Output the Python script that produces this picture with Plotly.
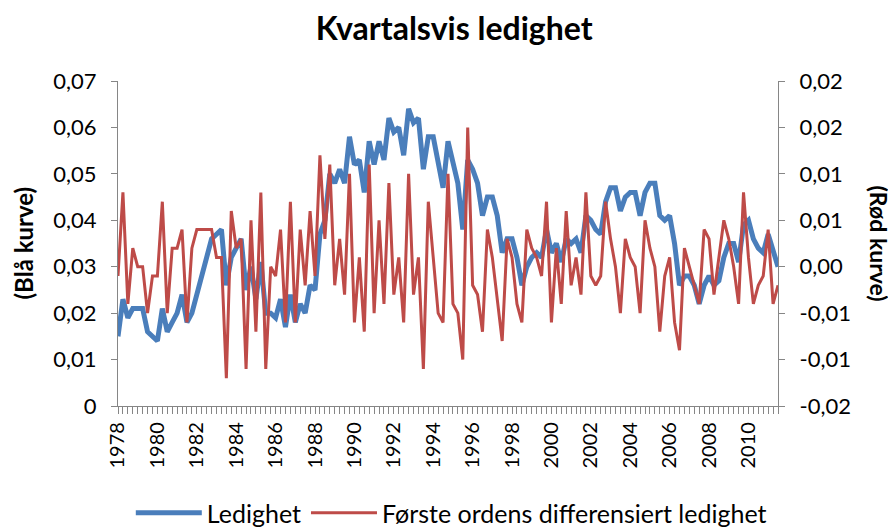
import plotly.graph_objects as go

start_year = 1978
ledighet = [
    0.015, 0.023, 0.019, 0.021, 0.021, 0.021, 0.016, 0.015, 0.014, 0.021,
    0.016, 0.018, 0.020, 0.024, 0.018, 0.020, 0.024, 0.028, 0.032, 0.036,
    0.037, 0.038, 0.026, 0.032, 0.034, 0.036, 0.025, 0.030, 0.023, 0.031,
    0.020, 0.020, 0.019, 0.023, 0.017, 0.024, 0.018, 0.022, 0.020, 0.026,
    0.025, 0.037, 0.040, 0.050, 0.048, 0.051, 0.048, 0.058, 0.052, 0.053,
    0.046, 0.057, 0.052, 0.057, 0.053, 0.062, 0.059, 0.060, 0.054, 0.064,
    0.061, 0.062, 0.051, 0.058, 0.058, 0.053, 0.047, 0.057, 0.053, 0.048,
    0.038, 0.053, 0.051, 0.048, 0.041, 0.045, 0.045, 0.041, 0.033, 0.036,
    0.036, 0.032, 0.026, 0.030, 0.032, 0.033, 0.032, 0.038, 0.033, 0.035,
    0.031, 0.036, 0.035, 0.036, 0.033, 0.041, 0.040, 0.038, 0.037, 0.044,
    0.047, 0.047, 0.042, 0.045, 0.046, 0.046, 0.041, 0.046, 0.048, 0.048,
    0.041, 0.040, 0.041, 0.035, 0.026, 0.028, 0.028, 0.026, 0.022, 0.026,
    0.028, 0.026, 0.027, 0.032, 0.035, 0.035, 0.031, 0.039, 0.040, 0.036,
    0.034, 0.033, 0.037, 0.033, 0.030,
]
diff_ledighet = [
    -0.001, 0.008, -0.004, 0.002, 0.000, 0.000, -0.005, -0.001, -0.001, 0.007,
    -0.005, 0.002, 0.002, 0.004, -0.006, 0.002, 0.004, 0.004, 0.004, 0.004,
    0.001, 0.001, -0.012, 0.006, 0.002, 0.003, -0.011, 0.005, -0.007, 0.008,
    -0.011, 0.000, -0.001, 0.004, -0.006, 0.007, -0.006, 0.004, -0.002, 0.006,
    -0.001, 0.012, 0.003, 0.011, -0.002, 0.003, -0.003, 0.010, -0.006, 0.001,
    -0.007, 0.011, -0.005, 0.005, -0.004, 0.009, -0.003, 0.001, -0.006, 0.010,
    -0.003, 0.001, -0.011, 0.007, 0.001, -0.005, -0.006, 0.010, -0.004, -0.005,
    -0.010, 0.015, -0.002, -0.003, -0.007, 0.004, 0.001, -0.0035, -0.008, 0.003,
    0.001, -0.004, -0.006, 0.004, 0.002, 0.001, -0.001, 0.007, -0.006, 0.002,
    -0.004, 0.006, -0.002, 0.001, -0.003, 0.008, -0.001, -0.002, -0.001, 0.007,
    0.003, 0.000, -0.005, 0.003, 0.001, 0.000, -0.005, 0.005, 0.002, 0.000,
    -0.007, -0.001, 0.001, -0.006, -0.009, 0.002, 0.000, -0.002, -0.004, 0.004,
    0.003, -0.003, 0.001, 0.005, 0.003, 0.000, -0.004, 0.008, 0.001, -0.004,
    -0.002, -0.001, 0.004, -0.004, -0.002,
]
x_tick_years = list(range(1978, 2011, 2))
left_tickvals = [0, 0.01, 0.02, 0.03, 0.04, 0.05, 0.06, 0.07]
left_ticktext = ["0", "0,01", "0,02", "0,03", "0,04", "0,05", "0,06", "0,07"]
right_tickvals = [-0.015, -0.01, -0.005, 0.0, 0.005, 0.01, 0.015, 0.02]
right_ticktext = ["-0,02", "-0,01", "-0,01", "0,00", "0,01", "0,01", "0,02", "0,02"]

quarters = [start_year + i / 4 for i in range(len(ledighet))]

FONT = "Lato"
AX = "#868686"

fig = go.Figure()
fig.add_trace(go.Scatter(x=quarters, y=ledighet, name="Ledighet", mode="lines",
                         line=dict(color="#4A7EBB", width=5)))
fig.add_trace(go.Scatter(x=quarters, y=diff_ledighet, name="Første ordens differensiert ledighet",
                         mode="lines", line=dict(color="#BE4B48", width=3), yaxis="y2"))

fig.update_layout(
    width=896, height=530,
    margin=dict(l=110, r=126, t=73, b=132, autoexpand=False),
    paper_bgcolor="white", plot_bgcolor="white",
    font=dict(family=FONT, size=20, color="black"),
    title=dict(text="<b>Kvartalsvis ledighet</b>", x=0.498, xanchor="center",
               y=1 - 21 / 530, yanchor="middle",
               font=dict(family=FONT, size=32, color="black")),
    showlegend=True,
    legend=dict(orientation="h", x=0.505, xanchor="center", yref="container",
                y=1 - 505 / 530, yanchor="middle",
                font=dict(family=FONT, size=25), itemwidth=66, tracegroupgap=0),
    xaxis=dict(range=[quarters[0], quarters[-1]], tickmode="array", tickvals=x_tick_years,
               ticktext=[str(y) for y in x_tick_years], tickangle=-90, showgrid=False,
               zeroline=False, showline=True, linecolor=AX, linewidth=1.3,
               ticks="outside", ticklen=7, tickcolor=AX, automargin=False,
               minor=dict(dtick=0.25, ticks="outside", ticklen=7, tickcolor=AX, showgrid=False),
               tickfont=dict(size=20)),
    yaxis=dict(range=[0, 0.07], tickmode="array", tickvals=left_tickvals, ticktext=left_ticktext,
               showgrid=False, zeroline=False, showline=True, linecolor=AX, linewidth=1.3,
               ticks="outside", ticklen=6, tickcolor=AX, tickfont=dict(size=22),
               ticklabelstandoff=10, automargin=False),
    yaxis2=dict(range=[-0.015, 0.02], tickmode="array", tickvals=right_tickvals, ticktext=right_ticktext,
                overlaying="y", side="right", showgrid=False, zeroline=False, showline=True,
                linecolor=AX, linewidth=1.3, ticks="outside", ticklen=6, tickcolor=AX,
                tickfont=dict(size=22), ticklabelstandoff=10, automargin=False),
    annotations=[
        dict(text="<b>(Blå kurve)</b>", xref="paper", yref="paper", x=0, y=0.5, xshift=-95,
             xanchor="center", yanchor="middle",
             textangle=-90, showarrow=False, font=dict(family=FONT, size=24)),
        dict(text="<b>(Rød kurve)</b>", xref="paper", yref="paper", x=1, y=0.5, xshift=101,
             xanchor="center", yanchor="middle",
             textangle=90, showarrow=False, font=dict(family=FONT, size=23)),
    ],
)

fig.write_html("out.html")
